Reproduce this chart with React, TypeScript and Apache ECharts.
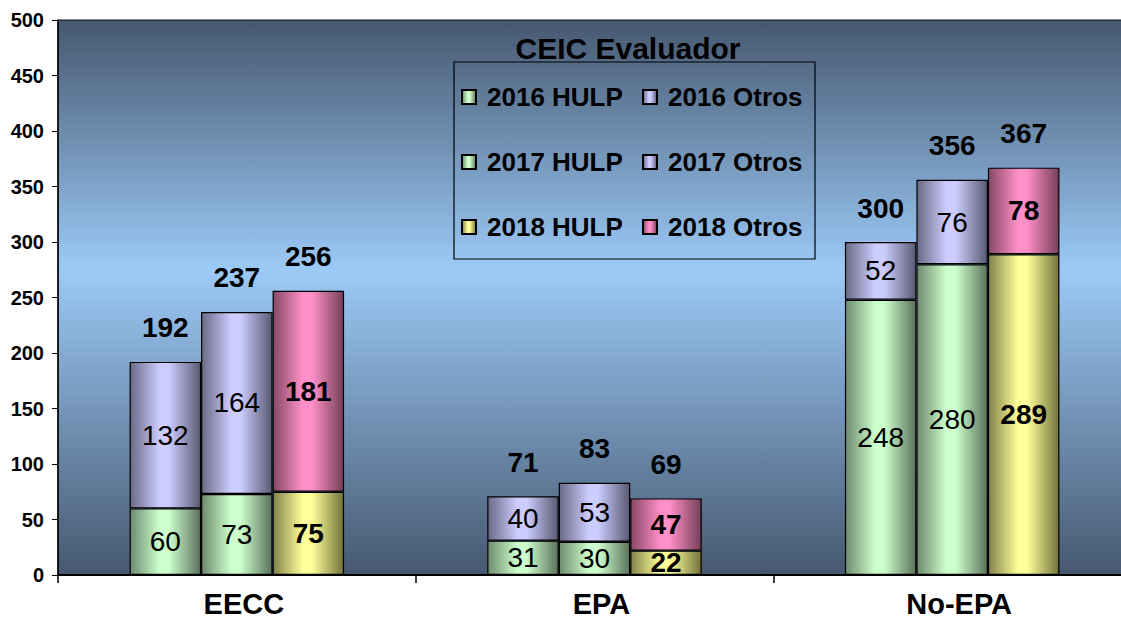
import React, { useEffect, useRef } from "react";
import * as echarts from "echarts";

const categories = ["EECC", "EPA", "No-EPA"];
const hulp2016 = [60, 31, 248];
const otros2016 = [132, 40, 52];
const hulp2017 = [73, 30, 280];
const otros2017 = [164, 53, 76];
const hulp2018 = [75, 22, 289];
const otros2018 = [181, 47, 78];
const yTicks = { min: 0, max: 500, interval: 50 };

const FONT = "'Liberation Sans', Arial, sans-serif";

function hGrad(dark: string, light: string, darker: string) {
  return new echarts.graphic.LinearGradient(0, 0, 1, 0, [
    { offset: 0, color: dark },
    { offset: 0.42, color: light },
    { offset: 0.55, color: light },
    { offset: 1, color: darker },
  ]);
}

const GREEN = () => hGrad("#6f8a6f", "#ccffcc", "#5b725b");
const LAV = () => hGrad("#6a6a86", "#ccccff", "#5a5a74");
const YEL = () => hGrad("#82824a", "#ffff99", "#72723d");
const PINK = () => hGrad("#874866", "#ff8fc8", "#753f58");

export default function App() {
  const ref = useRef<HTMLDivElement>(null);
  useEffect(() => {
    document.body.style.margin = "0";
    const chart = echarts.init(ref.current!, null, { renderer: "svg" });
    const insideLabel = (bold: boolean) => ({
      show: true,
      position: "inside" as const,
      color: "#000",
      fontFamily: FONT,
      fontSize: 28,
      fontWeight: bold ? ("bold" as const) : ("normal" as const),
    });
    const seg = (name: string, data: number[], stack: string, color: any, bold: boolean) => ({
      type: "bar",
      name,
      stack,
      data,
      barWidth: 71.5,
      barGap: "0%",
      itemStyle: { color, borderColor: "#000", borderWidth: 1.2 },
      label: insideLabel(bold),
    });
    const total = (stack: string, a: number[], b: number[]) => ({
      type: "bar",
      name: stack + "-total",
      stack,
      data: a.map(() => 0),
      barWidth: 71.5,
      barGap: "0%",
      itemStyle: { color: "transparent", borderWidth: 0 },
      label: {
        show: true,
        position: "top",
        distance: 20,
        color: "#000",
        fontFamily: FONT,
        fontSize: 28,
        fontWeight: "bold",
        formatter: (p: any) => String(a[p.dataIndex] + b[p.dataIndex]),
      },
    });
    const legendBase = {
      orient: "vertical",
      top: 82,
      padding: 0,
      icon: "rect",
      itemWidth: 14,
      itemHeight: 14,
      itemGap: 35,
      textStyle: {
        fontFamily: FONT,
        fontSize: 26,
        fontWeight: "bold",
        color: "#000",
        lineHeight: 30,
        padding: [0, 0, 0, 6],
      },
    };
    chart.setOption({
      animation: false,
      grid: {
        left: 58,
        top: 20,
        width: 1073,
        bottom: 46,
        outerBoundsMode: "none",
        show: true,
        borderColor: "#111",
        borderWidth: 1,
        backgroundColor: new echarts.graphic.LinearGradient(0, 0, 0, 1, [
          { offset: 0, color: "#465870" },
          { offset: 0.45, color: "#9ccaf7" },
          { offset: 1, color: "#465870" },
        ]),
      },
      legend: [
        { ...legendBase, left: 461, data: ["2016 HULP", "2017 HULP", "2018 HULP"] },
        { ...legendBase, left: 642, data: ["2016 Otros", "2017 Otros", "2018 Otros"] },
      ],
      graphic: [
        {
          type: "rect",
          shape: { x: 454, y: 62, width: 361, height: 197 },
          style: { fill: "transparent", stroke: "#000", lineWidth: 1.2 },
          z: 100,
        },
        {
          type: "text",
          x: 628,
          y: 48,
          style: {
            text: "CEIC Evaluador",
            fontFamily: FONT,
            fontSize: 30,
            fontWeight: "bold",
            fill: "#000",
            align: "center",
            verticalAlign: "middle",
          },
          z: 100,
        },
      ],
      xAxis: {
        type: "category",
        data: categories,
        axisLine: { lineStyle: { color: "#000", width: 2 } },
        axisTick: { show: true, length: 8, lineStyle: { color: "#000", width: 1.5 } },
        axisLabel: {
          fontFamily: FONT,
          fontSize: 29,
          fontWeight: "bold",
          color: "#000",
          lineHeight: 24,
          padding: [0, 0, 0, 14],
          margin: 17,
        },
      },
      yAxis: {
        type: "value",
        min: yTicks.min,
        max: yTicks.max,
        interval: yTicks.interval,
        splitLine: { show: false },
        axisLine: { show: true, lineStyle: { color: "#000", width: 1.5 } },
        axisTick: { show: true, length: 6, lineStyle: { color: "#000" } },
        axisLabel: {
          fontFamily: FONT,
          fontSize: 20,
          fontWeight: "bold",
          color: "#000",
          margin: 14,
        },
      },
      series: [
        seg("2016 HULP", hulp2016, "s2016", GREEN(), false),
        seg("2016 Otros", otros2016, "s2016", LAV(), false),
        total("s2016", hulp2016, otros2016),
        seg("2017 HULP", hulp2017, "s2017", GREEN(), false),
        seg("2017 Otros", otros2017, "s2017", LAV(), false),
        total("s2017", hulp2017, otros2017),
        seg("2018 HULP", hulp2018, "s2018", YEL(), true),
        seg("2018 Otros", otros2018, "s2018", PINK(), true),
        total("s2018", hulp2018, otros2018),
      ],
    });
    return () => chart.dispose();
  }, []);
  return <div ref={ref} style={{ width: 1121, height: 621 }} />;
}
